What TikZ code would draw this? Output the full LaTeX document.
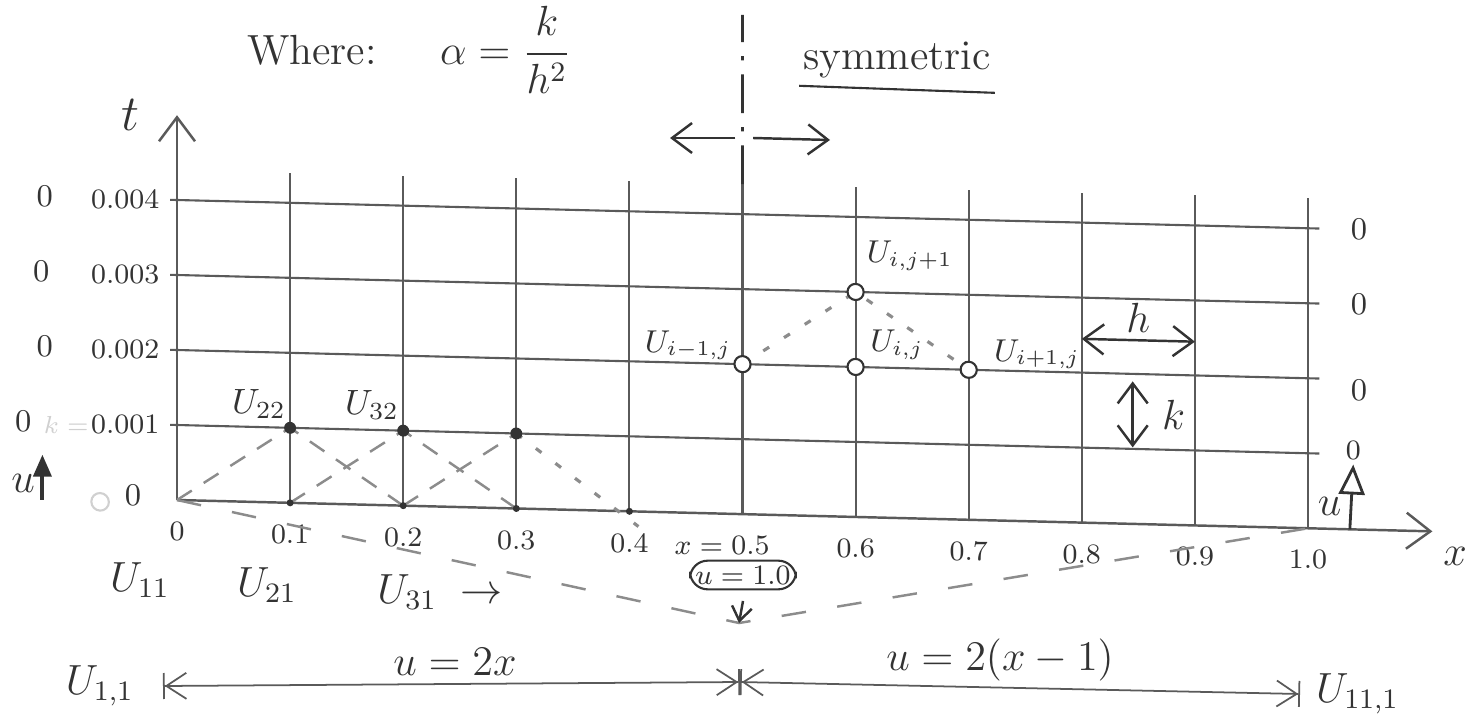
\documentclass[tikz,border=0pt]{standalone}
\usepackage{amsmath}
\usepackage{xcolor}
\usepackage{tikz}
\usetikzlibrary{arrows.meta,positioning}
\definecolor{PencilDark}{HTML}{333333}
\definecolor{PencilGrid}{HTML}{5A5A5A}
\definecolor{PencilSoft}{HTML}{8C8C8C}
\definecolor{PencilGhost}{HTML}{D0D0D0}
\tikzset{
  fdgrid/.style={draw=PencilGrid, line width=0.6pt},
  fdaxis/.style={draw=PencilGrid, line width=0.7pt,
    -{Straight Barb[length=2.4mm,width=3.6mm]}},
  fdstencil/.style={draw=PencilSoft, line width=0.7pt, dash pattern=on 5pt off 4pt},
  fddotted/.style={draw=PencilSoft, line width=0.9pt, dash pattern=on 2pt off 5pt},
  fdcurve/.style={draw=PencilSoft, line width=0.7pt, dash pattern=on 7pt off 9pt},
  fdsym/.style={draw=PencilDark, line width=0.8pt,
    dash pattern=on 11pt off 4pt on 1.2pt off 4pt},
  fdflow/.style={draw=PencilDark, line width=0.7pt,
    -{Straight Barb[length=2mm,width=3mm]}},
  fdboth/.style={draw=PencilDark, line width=0.7pt,
    {Straight Barb[length=2mm,width=3mm]}-{Straight Barb[length=2mm,width=3mm]}},
  fdspan/.style={draw=PencilGrid, line width=0.5pt,
    {Bar[width=2.6mm]Straight Barb[length=2mm,width=2.6mm]}-{Straight Barb[length=2mm,width=2.6mm]Bar[width=2.6mm]}},
  fdhollow/.style={draw=PencilDark, line width=0.8pt,
    -{Triangle[open,length=3mm,width=2.6mm]}},
  fdup/.style={draw=PencilDark, line width=1.1pt,
    -{Triangle[length=2.2mm,width=1.8mm]}},
  fdpoint/.style={draw=PencilDark, fill=white, line width=0.6pt},
  fdtick/.style={font=\footnotesize, text=PencilDark, inner sep=1pt},
  fdzero/.style={font=\small, text=PencilDark, inner sep=1pt},
  fdmesh/.style={font=\normalsize, text=PencilDark, inner sep=1pt},
  fdbig/.style={font=\large, text=PencilDark, inner sep=1pt}
}

\begin{document}
\begin{tikzpicture}
  \useasboundingbox (-1.77,-2.13) rectangle (12.90,5.00);

  % the mesh (the sketch runs a little downhill to the right)
  \begin{scope}[x=1.131cm, y=0.75cm, yslant=-0.025]
    \foreach \i in {0,...,10}
      \foreach \j in {0,...,4}
        \coordinate (m-\i-\j) at (\i,\j);
    \foreach \j in {1,...,4}
      \draw[fdgrid] (-0.06,\j) -- (10.1,\j);
    \foreach \i in {1,...,10}
      \draw[fdgrid] (m-\i-0) -- (\i,4.4) coordinate (top-\i);
    \draw[fdaxis] (m-0-0) -- (11.1,0) coordinate (x-tip);
    \draw[fdaxis] (m-0-0) -- (0,5.13) coordinate (t-tip);

    % axis values
    \foreach \i/\v in {0/0,1/0.1,2/0.2,3/0.3,4/0.4,6/0.6,7/0.7,8/0.8,9/0.9,10/1.0}
      \node[fdtick] (xv-\i) at (\i,-0.42) {\v};
    \node[fdtick] (xv-5) at (4.82,-0.42) {$x=0.5$};
    \foreach \j/\v/\z in {1/0.001/-1.36,2/0.002/-1.17,3/0.003/-1.2,4/0.004/-1.17} {
      \node[fdtick, anchor=east] (tv-\j) at (-0.12,\j) {\v};
      \node[fdzero] (zl-\j) at (\z,\j) {0};
    }
    \node[fdzero] (tv-0) at (-0.39,0.05) {0};
    \foreach \j/\y in {2/1.85,3/3,4/4}
      \node[fdzero] (zr-\j) at (10.45,\y) {0};
    \node[fdtick] (zr-1) at (10.4,1.05) {0};
    \node[fdtick, font=\scriptsize, text=PencilGhost] (kfaint) at (-0.98,0.97) {$k=$};
    \draw[PencilGhost, line width=0.6pt] (-0.68,-0.05) circle (2.5pt);
    \node[fdbig] (xlab) at (11.3,-0.33) {$x$};

    % u arrows at both ends
    \node[fdbig] (uL) at (-1.36,0.17) {$u$};
    \coordinate (uL-foot) at (-1.19,-0.04);
    \coordinate (uL-head) at (-1.19,0.56);
    \draw[fdup] (uL-foot) -- (uL-head);
    \node[fdbig] (uR) at (10.19,0.3) {$u$};
    \coordinate (uR-foot) at (10.37,0);
    \draw[fdhollow] (uR-foot) -- (zr-1.south);

    % first row of stencils
    \draw[fdstencil] (m-0-0) -- (m-1-1) -- (m-2-0);
    \draw[fdstencil] (m-1-0) -- (m-2-1) -- (m-3-0);
    \draw[fdstencil] (m-2-0) -- (m-3-1);
    \coordinate (s-end) at (4.08,-0.2);
    \draw[fddotted] (m-3-1) -- (s-end);
    \foreach \i in {1,2,3} {
      \fill[PencilDark] (m-\i-1) circle (1.7pt);
      \fill[PencilDark] (m-\i-0) circle (1pt);
    }
    \fill[PencilDark] (m-4-0) circle (1pt);
    \node[fdmesh, above left=1.5pt and 0pt of m-1-1] (u22) {$U_{22}$};
    \node[fdmesh, above left=2pt and 0pt of m-2-1] (u32) {$U_{32}$};

    % general stencil
    \draw[fddotted] (m-5-2) -- (m-6-3) -- (m-7-2);
    \foreach \p in {m-5-2,m-6-2,m-7-2,m-6-3}
      \draw[fdpoint] (\p) circle (2.3pt);
    \node[fdmesh, font=\small, above right=5pt and 2pt of m-6-3] (uij1) {$U_{i,j+1}$};
    \node[fdmesh, font=\small, above left=0pt and 2pt of m-5-2] (uim) {$U_{i-1,j}$};
    \node[fdmesh, font=\small, above right=1pt and 3pt of m-6-2] (uij) {$U_{i,j}$};
    \node[fdmesh, font=\small, above right=-1pt and 6pt of m-7-2] (uip) {$U_{i+1,j}$};

    % step sizes
    \coordinate (h-l) at (8,2.45);
    \coordinate (h-r) at (9,2.45);
    \draw[fdboth] (h-l) -- node[fdbig, above=1pt] (hlab) {$h$} (h-r);
    \coordinate (k-t) at (8.45,1.9);
    \coordinate (k-b) at (8.45,1.02);
    \draw[fdboth] (k-t) -- node[fdbig, right=7pt] (klab) {$k$} (k-b);
  \end{scope}

  \node[fdbig, font=\Large] (tlab) at (-0.47,3.85) {$t$};

  % symmetry line
  \coordinate (sym-top) at (5.655,4.85);
  \draw[fdsym] (top-5) -- (sym-top);
  \coordinate (sym-c) at (5.655,3.62);
  \coordinate (sym-l) at (4.93,3.62);
  \coordinate (sym-r) at (6.53,3.60);
  \draw[fdflow] ([xshift=-2pt]sym-c) -- (sym-l);
  \draw[fdflow] ([xshift=3pt]sym-c) -- (sym-r);
  \node[fdbig] (symtxt) at (7.20,4.40) {symmetric};
  \draw[PencilDark, line width=0.6pt] ([yshift=-1pt]symtxt.south west) -- ([yshift=-3pt]symtxt.south east);

  % title
  \node[fdbig] (where) at (1.35,4.50) {Where:};
  \node[fdbig, right=0.55cm of where] (alpha) {$\alpha = \dfrac{k}{h^2}$};

  % initial profile
  \coordinate (vtx) at (5.62,-1.23);
  \draw[fdcurve] (m-0-0) -- (vtx) -- (m-10-0);
  \node[fdtick, draw=PencilDark, rounded corners=5pt, inner sep=1.5pt, line width=0.6pt] (umax) at (5.66,-0.75) {$u=1.0$};
  \draw[fdflow, -{Straight Barb[length=1.4mm,width=2mm]}] ([yshift=-3pt]umax.south) -- (vtx);

  % boundary row
  \node[fdbig] (u11) at (-0.37,-0.80) {$U_{11}$};
  \node[fdbig] (u21) at (0.90,-0.85) {$U_{21}$};
  \node[fdbig] (u31) at (2.63,-0.92) {$U_{31}\;\rightarrow$};

  % spans of the two halves
  \coordinate (span-l) at (-0.14,-1.86);
  \coordinate (span-m) at (5.63,-1.82);
  \coordinate (span-r) at (11.23,-1.94);
  \draw[fdspan] (span-l) -- (span-m);
  \draw[fdspan] (span-m) -- (span-r);
  \node[fdbig] (lefteq) at (2.78,-1.62) {$u=2x$};
  \node[fdbig] (righteq) at (8.23,-1.60) {$u=2(x-1)$};
  \node[fdbig, left=0.25cm of span-l] (u1c1) {$U_{1,1}$};
  \node[fdbig, right=0.12cm of span-r] (u11c1) {$U_{11,1}$};
\end{tikzpicture}
\end{document}
